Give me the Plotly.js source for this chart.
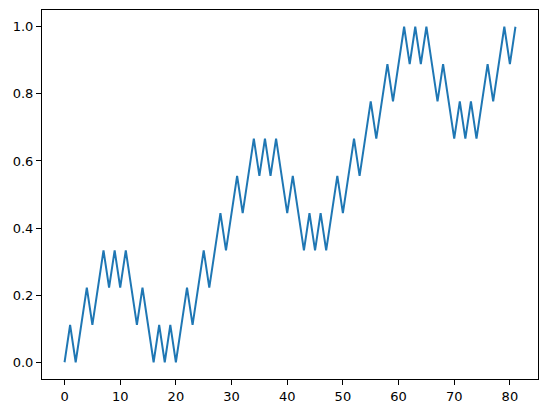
<!DOCTYPE html>
<html>
<head>
<meta charset="utf-8">
<script src="https://cdn.plot.ly/plotly-3.0.1.min.js"></script>
<style>
html,body{margin:0;padding:0;background:#fff;}
#chart{width:547px;height:413px;}
</style>
</head>
<body>
<div id="chart"></div>
<script>
// values in ninths
const ninths = [0,1,0,1,2,1,2,3,2,3,2,3,2,1,2,1,0,1,0,1,0,1,2,1,2,3,2,3,4,3,4,5,4,5,6,5,6,5,6,5,4,5,4,3,4,3,4,3,4,5,4,5,6,5,6,7,6,7,8,7,8,9,8,9,8,9,8,7,8,7,6,7,6,7,6,7,8,7,8,9,8,9];
const xValues = ninths.map((_, i) => i);
const yValues = ninths.map(v => v / 9);
const xTicks = [0,10,20,30,40,50,60,70,80];
const yTicks = [0.0,0.2,0.4,0.6,0.8,1.0];
const yTickLabels = ["0.0","0.2","0.4","0.6","0.8","1.0"];

const axisCommon = {
  showgrid:false, zeroline:false, showline:true, mirror:true,
  linecolor:'#000', linewidth:1, ticks:'outside', ticklen:5, tickwidth:1, tickcolor:'#000',
  tickfont:{family:'DejaVu Sans', size:13, color:'#000'}
};
Plotly.newPlot('chart', [{
  x: xValues, y: yValues, mode:'lines', type:'scatter',
  line:{color:'#1f77b4', width:2}, hoverinfo:'skip'
}], {
  width:547, height:413,
  margin:{l:42, r:9, t:10, b:34},
  paper_bgcolor:'#fff', plot_bgcolor:'#fff',
  showlegend:false,
  xaxis: Object.assign({}, axisCommon, {range:[-4.05,85.05], tickvals:xTicks, ticktext:xTicks.map(String)}),
  yaxis: Object.assign({}, axisCommon, {range:[-0.05,1.05], tickvals:yTicks, ticktext:yTickLabels})
}, {staticPlot:true, displayModeBar:false});
</script>
</body>
</html>
